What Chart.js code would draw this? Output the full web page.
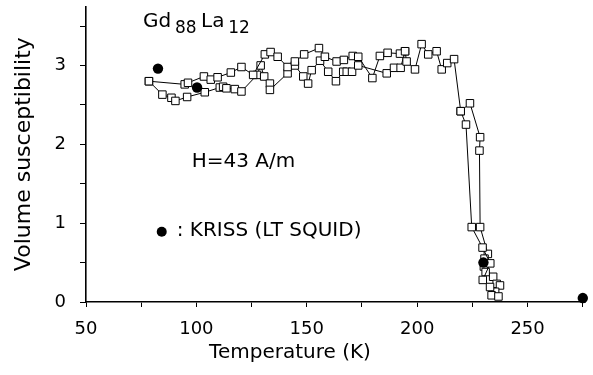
<!DOCTYPE html>
<html><head><meta charset="utf-8">
<script src="https://cdn.jsdelivr.net/npm/chart.js@4/dist/chart.umd.min.js"></script>
<style>html,body{margin:0;padding:0;background:#fff}#wrap{width:593px;height:375px}</style>
</head><body><div id="wrap"><canvas id="c" width="593" height="375"></canvas></div>
<script>
// ---- data (Temperature in K, volume susceptibility) ----
const runA_T = [78.5,94.7,96.2,103.4,106.5,109.6,115.6,120.4,125.7,131.0,133.6,136.8,141.3,144.6,148.8,155.5,158.2,163.5,166.8,170.8,173.3,179.7,183.1,186.6,192.2,194.5,195.2,199.0,202.0,205.0,208.8,211.1,213.6,216.7,219.7,222.1,224.7,229.6,233.1,229.7,233.0,236.8];
const runA_V = [2.80,2.76,2.78,2.86,2.82,2.85,2.91,2.98,2.88,3.14,3.17,3.11,2.98,3.05,3.14,3.22,3.11,3.05,3.07,3.12,3.11,2.84,3.12,3.16,3.15,3.18,3.05,2.95,3.27,3.14,3.18,2.95,3.03,3.08,2.42,2.25,0.95,0.69,0.49,0.28,0.19,0.07];
const runB_T = [78.5,84.6,88.7,90.5,95.8,103.8,110.6,112.1,113.6,117.4,120.4,127.5,129.1,130.7,133.3,133.3,141.3,144.6,148.4,150.6,152.2,156.0,159.7,163.2,166.5,168.1,170.5,173.3,186.2,189.5,192.5,194.5];
const runB_V = [2.80,2.63,2.59,2.55,2.60,2.66,2.72,2.73,2.71,2.70,2.67,2.88,3.00,2.86,2.77,2.69,2.90,3.00,2.86,2.77,2.94,3.06,2.92,2.80,2.92,2.92,2.92,3.00,2.90,2.97,2.97,3.18];
const runC_T = [219.7,223.9,228.5,228.2,228.5,232.0,230.5,230.2,234.4,231.0,236.0,237.5,235.3,233.7];
const runC_V = [2.42,2.52,2.09,1.92,0.95,0.61,0.55,0.45,0.32,0.38,0.23,0.21,0.13,0.085];
const kriss_T = [82.6,100.3,230.0,275.0];
const kriss_V = [2.96,2.72,0.50,0.05];
const xTicks = [50,75,100,125,150,175,200,225,250,275];
const yTicks = [0,0.5,1,1.5,2,2.5,3,3.5];

const FONT = "'DejaVu Sans', sans-serif";
const pts = (T,V) => T.map((t,i)=>({x:t,y:V[i]}));

const annot = {
  id:'annot',
  afterDraw(chart){
    const {ctx, scales:{x,y}} = chart;
    ctx.save();
    ctx.fillStyle = '#000';
    ctx.textBaseline = 'alphabetic';
    ctx.textAlign = 'left';
    ctx.font = "20px " + FONT;
    ctx.fillText('Gd', x.getPixelForValue(75.8), y.getPixelForValue(3.49));
    ctx.fillText('La', x.getPixelForValue(102.1), y.getPixelForValue(3.49));
    ctx.font = "17px " + FONT;
    ctx.fillText('88', x.getPixelForValue(90.3), y.getPixelForValue(3.41));
    ctx.fillText('12', x.getPixelForValue(114.4), y.getPixelForValue(3.41));
    ctx.font = "20px " + FONT;
    ctx.fillText('H=43 A/m', x.getPixelForValue(97.9), y.getPixelForValue(1.71));
    ctx.fillText(': KRISS (LT SQUID)', x.getPixelForValue(91.1), y.getPixelForValue(0.84));
    ctx.beginPath();
    ctx.arc(x.getPixelForValue(84.3), y.getPixelForValue(0.89), 5, 0, Math.PI*2);
    ctx.fill();
    // x-axis title
    ctx.textAlign = 'center';
    ctx.textBaseline = 'middle';
    ctx.font = "20px " + FONT;
    ctx.fillText('Temperature (K)', 290, 353);
    ctx.restore();
  }
};

const sq = {showLine:true, borderColor:'#000', borderWidth:1, pointStyle:'rect', pointRadius:5.3,
  pointBackgroundColor:'#fff', pointBorderColor:'#000', pointBorderWidth:1, tension:0, clip:false};

new Chart(document.getElementById('c'), {
  type:'scatter',
  data:{datasets:[
    {label:'KRISS', data:pts(kriss_T,kriss_V), showLine:false, pointStyle:'circle', pointRadius:5.2,
     backgroundColor:'#000', borderColor:'#000', borderWidth:0, clip:false},
    Object.assign({label:'run A', data:pts(runA_T,runA_V)}, sq),
    Object.assign({label:'run B', data:pts(runB_T,runB_V)}, sq),
    Object.assign({label:'run C', data:pts(runC_T,runC_V)}, sq)
  ]},
  options:{
    responsive:false, animation:false, devicePixelRatio:1,
    layout:{padding:{top:6,right:8,left:0,bottom:0}},
    plugins:{legend:{display:false}, tooltip:{enabled:false}},
    scales:{
      x:{type:'linear', min:50, max:276,
        afterBuildTicks:s=>{s.ticks = xTicks.map(v=>({value:v}));},
        afterFit:s=>{s.height = 73; s.paddingLeft = 0; s.paddingRight = 0;},
        ticks:{autoSkip:false, maxRotation:0, padding:12, color:'#000', font:{family:FONT,size:18},
          callback:v=> (v%50===0 && v<=250) ? String(v) : ''},
        grid:{drawOnChartArea:false, drawTicks:true, tickLength:5, color:'#000', lineWidth:1},
        border:{display:true, color:'#000', width:1.6}
      },
      y:{type:'linear', min:0, max:3.75,
        afterBuildTicks:s=>{s.ticks = yTicks.map(v=>({value:v}));},
        afterFit:s=>{s.width = 86; s.paddingTop = 0; s.paddingBottom = 0;},
        ticks:{autoSkip:false, padding:14, color:'#000', font:{family:FONT,size:18},
          callback:v=> Number.isInteger(v) ? String(v) : ''},
        grid:{drawOnChartArea:false, drawTicks:true, tickLength:6, color:'#000', lineWidth:1},
        border:{display:true, color:'#000', width:1.6},
        title:{display:true, text:'Volume susceptibility', color:'#000', font:{family:FONT,size:22}, padding:{top:11,bottom:0}}
      }
    }
  },
  plugins:[annot]
});
</script></body></html>
